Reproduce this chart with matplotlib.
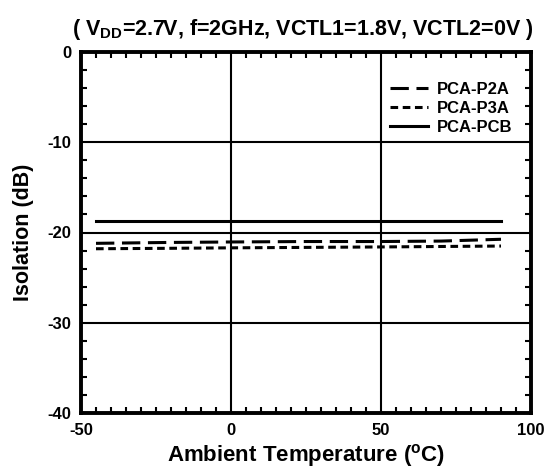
import matplotlib
matplotlib.use("Agg")
import matplotlib.pyplot as plt
from matplotlib.ticker import MultipleLocator

plt.rcParams['font.family'] = ['Liberation Sans', 'DejaVu Sans']
plt.rcParams['font.weight'] = 'bold'
plt.rcParams['axes.unicode_minus'] = False
plt.rcParams['mathtext.fontset'] = 'custom'
plt.rcParams['mathtext.rm'] = 'Liberation Sans:bold'
plt.rcParams['mathtext.it'] = 'Liberation Sans:bold'
plt.rcParams['mathtext.bf'] = 'Liberation Sans:bold'

temps = [-45, -20, 0, 25, 50, 70, 90]
p2a = [-21.2, -21.1, -21.05, -21.0, -21.0, -20.95, -20.75]
p3a = [-21.8, -21.75, -21.7, -21.65, -21.6, -21.55, -21.5]
pcb = [-18.7, -18.7, -18.7, -18.7, -18.7, -18.7, -18.7]
labels = ['PCA-P2A', 'PCA-P3A', 'PCA-PCB']

fig = plt.figure(figsize=(5.47, 4.71), dpi=100)
ax = fig.add_axes([81/547, 1-413/471, 450/547, 361/471])

ax.plot(temps, p2a, color='black', lw=2.2, linestyle=(0, (6, 2.5)), label=labels[0])
ax.plot(temps, p3a, color='black', lw=2.2, linestyle=(0, (2.5, 1.5)), label=labels[1])
ax.plot(temps, pcb, color='black', lw=2.2, linestyle='-', label=labels[2])

ax.set_xlim(-50, 100)
ax.set_ylim(-40, 0)
ax.xaxis.set_major_locator(MultipleLocator(50))
ax.xaxis.set_minor_locator(MultipleLocator(5))
ax.yaxis.set_major_locator(MultipleLocator(10))
ax.yaxis.set_minor_locator(MultipleLocator(2))
ax.grid(True, which='major', color='black', lw=1.5)
ax.tick_params(which='both', direction='in', labelsize=12, width=1.5, colors='black')
ax.tick_params(which='major', length=0, pad=7)
ax.tick_params(which='minor', length=4, right=True, top=True)
for s in ax.spines.values():
    s.set_linewidth(2.8)
for t in ax.get_xticklabels() + ax.get_yticklabels():
    t.set_fontweight('bold')

ax.set_xlabel(r'Ambient Temperature ($^\mathrm{o}$C)', fontsize=16, fontweight='bold', labelpad=3)
ax.set_ylabel('Isolation (dB)', fontsize=15.5, fontweight='bold', labelpad=10)

fig.text(303/547, 1-35/471, r'( V$_\mathrm{DD}$=2.7V, f=2GHz, VCTL1=1.8V, VCTL2=0V )',
         ha='center', va='baseline', fontsize=15.5, fontweight='bold')

leg = ax.legend(loc='upper right', bbox_to_anchor=(0.985, 0.95), frameon=False,
                fontsize=12, handlelength=2.3, handletextpad=0.55, labelspacing=0.25,
                borderaxespad=0.3)
for t in leg.get_texts():
    t.set_fontweight('bold')

fig.savefig('out.png', dpi=100)
